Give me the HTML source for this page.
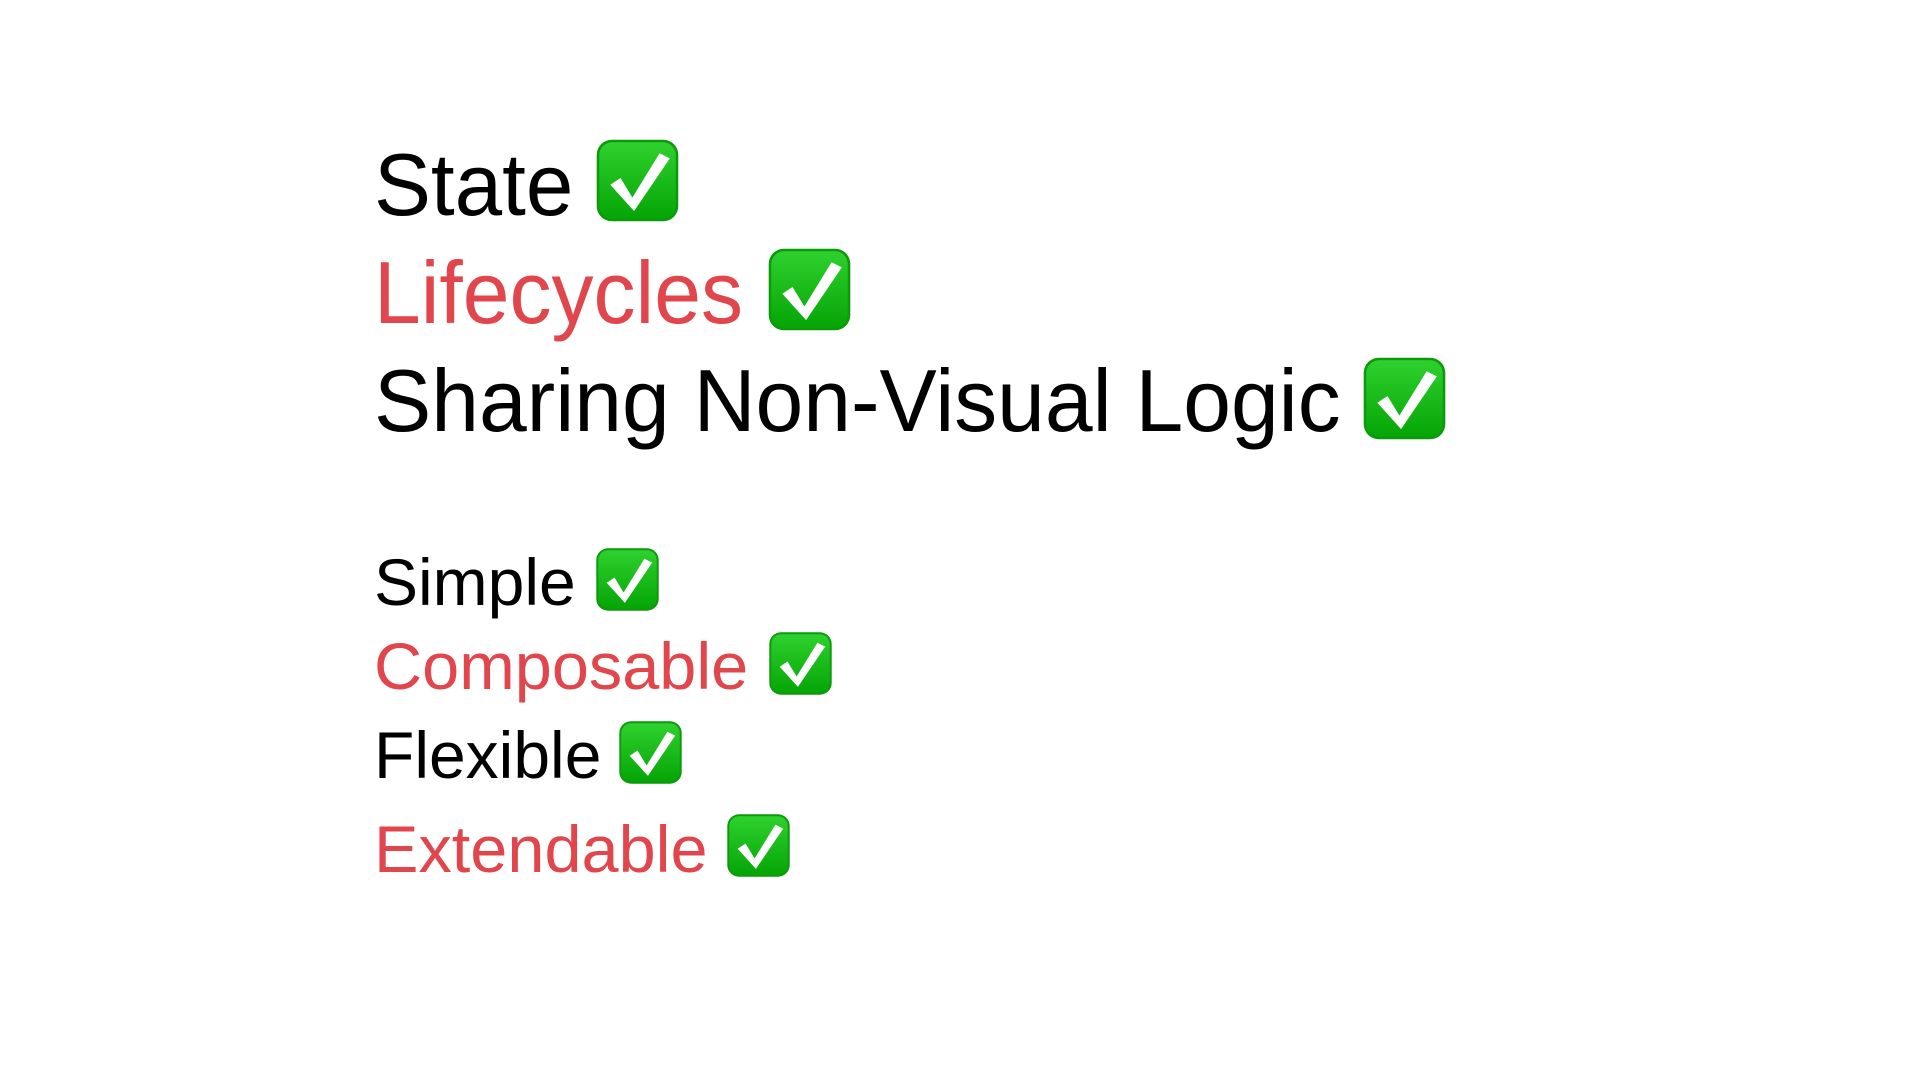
<!DOCTYPE html>
<html><head><meta charset="utf-8"><style>
body{margin:0;width:1920px;height:1080px;background:#fff;position:relative;overflow:hidden;font-family:"Liberation Sans",sans-serif;}
.t{position:absolute;left:374px;white-space:nowrap;line-height:1;color:#000;transform-origin:0 0;}
.b{font-size:88px;}
.s{font-size:66px;}
.r{color:#e0464b;}
svg{position:absolute;}
</style></head><body>
<svg width="0" height="0"><defs>
<linearGradient id="g" x1="0" y1="0" x2="0" y2="1"><stop offset="0" stop-color="#2ed12e"/><stop offset="1" stop-color="#05a505"/></linearGradient>
<symbol id="c" viewBox="0 0 100 100"><rect x="2" y="2" width="96" height="96" rx="18" fill="#0a9a0a"/><rect x="5" y="5" width="90" height="90" rx="15" fill="url(#g)"/><path d="M18 55 L30 47 L44 70 L76 18 L88 24 L46 86 Z" fill="#fff"/></symbol>
</defs></svg>
<div class="t b" style="top:141px;transform:scaleX(0.97)">State</div>
<div class="t b r" style="top:249px;transform:scaleX(0.955)">Lifecycles</div>
<div class="t b" style="top:357px;transform:scaleX(0.975)">Sharing Non-Visual Logic</div>
<div class="t s" style="top:549px">Simple</div>
<div class="t s r" style="top:633px;transform:scaleX(1.01)">Composable</div>
<div class="t s" style="top:722px">Flexible</div>
<div class="t s r" style="top:816px;transform:scaleX(1.01)">Extendable</div>
<svg style="left:595px;top:138px" width="85" height="85"><use href="#c"/></svg>
<svg style="left:767px;top:247px" width="85" height="85"><use href="#c"/></svg>
<svg style="left:1362px;top:356px" width="85" height="85"><use href="#c"/></svg>
<svg style="left:595px;top:547px" width="65" height="65"><use href="#c"/></svg>
<svg style="left:768px;top:631px" width="65" height="65"><use href="#c"/></svg>
<svg style="left:618px;top:720px" width="65" height="65"><use href="#c"/></svg>
<svg style="left:726px;top:813px" width="65" height="65"><use href="#c"/></svg>
</body></html>
